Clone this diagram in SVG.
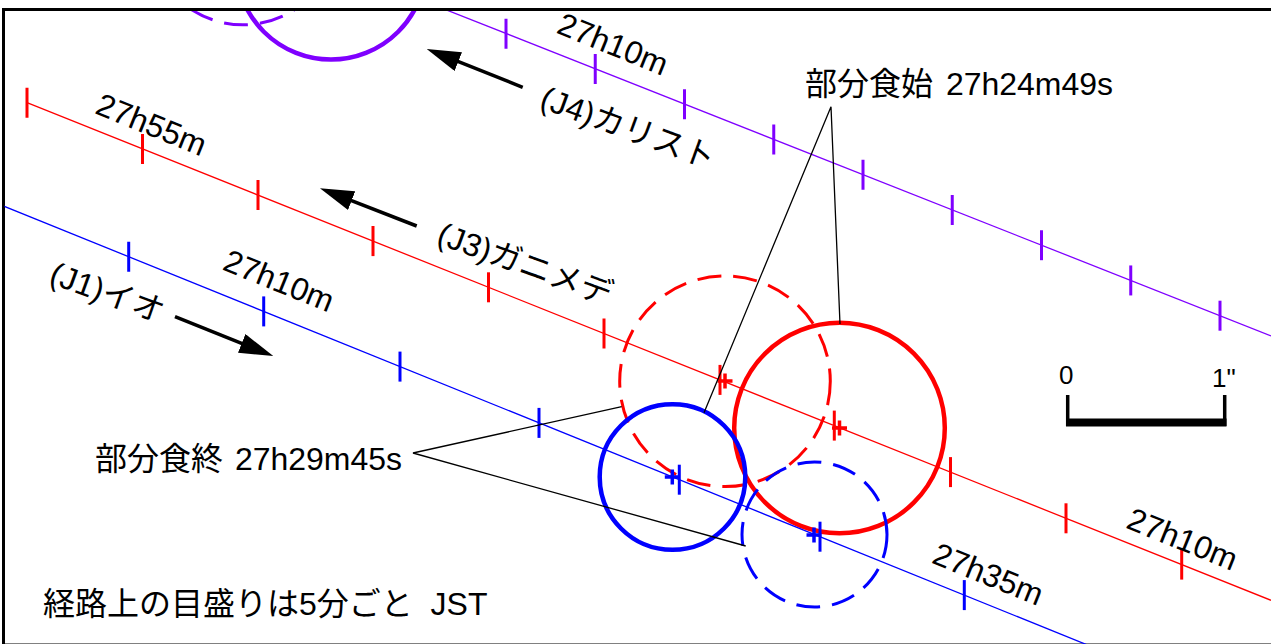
<svg xmlns="http://www.w3.org/2000/svg" width="1271" height="644" viewBox="0 0 1271 644">
<style>
.t{font-family:'Liberation Sans','Noto Sans CJK JP',sans-serif;fill:#000}
.pl{fill:none;stroke-width:1.3}
.tk{stroke-width:3}
.ev{stroke-width:3.5}
.sol{fill:none;stroke-width:4.5}
.dsh{fill:none;stroke-width:3;stroke-dasharray:24 12}
.ld{stroke:#000;stroke-width:1.3;fill:none}
.ar{stroke:#000;stroke-width:3.5;fill:none;marker-end:url(#ah)}
.pu{stroke:#7f00ff}
.rd{stroke:#ff0000}
.bl{stroke:#0000ff}
</style>
<defs>
<clipPath id="clip"><rect x="4.5" y="11" width="1280" height="640"/></clipPath>
<marker id="ah" viewBox="0 0 34 20" refX="14" refY="10" markerWidth="34" markerHeight="20" markerUnits="userSpaceOnUse" orient="auto">
<path d="M0,0 L34,10 L0,20 z" fill="#000"/>
</marker>
</defs>
<rect x="0" y="0" width="1271" height="644" fill="#fff"/>
<g id="frame"><rect x="3.5" y="9.5" width="1300" height="635.5" fill="none" stroke="#000" stroke-width="3"/></g>
<g clip-path="url(#clip)">
<g id="j4-callisto">
<line class="pl pu" x1="440" y1="7.4" x2="1271" y2="335.9"/>
<g class="tk pu">
<line x1="506" y1="18.7" x2="506" y2="48.7"/>
<line x1="595.25" y1="53.95" x2="595.25" y2="83.95"/>
<line x1="684.5" y1="89.2" x2="684.5" y2="119.2"/>
<line x1="773.75" y1="124.45" x2="773.75" y2="154.45"/>
<line x1="863" y1="159.7" x2="863" y2="189.7"/>
<line x1="952.25" y1="194.95" x2="952.25" y2="224.95"/>
<line x1="1041.5" y1="230.2" x2="1041.5" y2="260.2"/>
<line x1="1130.75" y1="265.45" x2="1130.75" y2="295.45"/>
<line x1="1220" y1="300.7" x2="1220" y2="330.7"/>
</g>
<circle class="dsh pu" cx="243" cy="-70.2" r="95"/>
<circle class="sol pu" cx="331" cy="-35.4" r="95"/>
</g>
<g id="j3-ganymede">
<line class="pl rd" x1="27" y1="102.7" x2="1271" y2="600.3"/>
<g class="tk rd">
<line x1="27" y1="87.7" x2="27" y2="117.7"/>
<line x1="142.5" y1="133.9" x2="142.5" y2="163.9"/>
<line x1="258" y1="180.1" x2="258" y2="210.1"/>
<line x1="373" y1="226.1" x2="373" y2="256.1"/>
<line x1="488.5" y1="272.3" x2="488.5" y2="302.3"/>
<line x1="604" y1="318.5" x2="604" y2="348.5"/>
<line x1="720" y1="364.9" x2="720" y2="394.9"/>
<line x1="834.3" y1="410.6" x2="834.3" y2="440.6"/>
<line x1="950.5" y1="457.1" x2="950.5" y2="487.1"/>
<line x1="1066" y1="503.3" x2="1066" y2="533.3"/>
<line x1="1181.7" y1="549.6" x2="1181.7" y2="579.6"/>
</g>
<g class="ev rd">
<path d="M725,373.5 V388.5 M717.5,381 H732.5"/>
<path d="M839.5,420.5 V435.5 M832,428 H847"/>
</g>
<circle class="dsh rd" cx="725" cy="381.3" r="105.3"/>
<circle class="sol rd" cx="839.5" cy="428" r="105.3"/>
</g>
<g id="j1-io">
<line class="pl bl" x1="0" y1="204.6" x2="1090" y2="646"/>
<g class="tk bl">
<line x1="128.7" y1="241.7" x2="128.7" y2="271.7"/>
<line x1="263.7" y1="296.4" x2="263.7" y2="326.4"/>
<line x1="400" y1="351.6" x2="400" y2="381.6"/>
<line x1="539" y1="407.9" x2="539" y2="437.9"/>
<line x1="679.3" y1="464.7" x2="679.3" y2="494.7"/>
<line x1="820" y1="521.7" x2="820" y2="551.7"/>
<line x1="964.3" y1="580.1" x2="964.3" y2="610.1"/>
</g>
<g class="ev bl">
<path d="M672.3,469.5 V484.5 M664.8,477 H679.8"/>
<path d="M814,527.5 V542.5 M806.5,535 H821.5"/>
</g>
<circle class="sol bl" cx="672.5" cy="477" r="72.8"/>
<circle class="dsh bl" cx="814.5" cy="534.5" r="72.5"/>
</g>
</g>
<g id="connectors">
<polyline class="ld" points="704,412.7 831,106.7 840,324"/>
<polyline class="ld" points="621.7,406.7 413,453 745.7,546"/>
<line class="ar" x1="522.7" y1="87.3" x2="445.3" y2="56.4"/>
<line class="ar" x1="416.7" y1="226" x2="338.6" y2="195.6"/>
<line class="ar" x1="175" y1="316.7" x2="254.7" y2="348.6"/>
</g>
<g id="time-labels" class="t" font-size="32" text-anchor="middle">
<text transform="translate(612.5,45) rotate(22)" y="10">27h10m</text>
<text transform="translate(151,125.5) rotate(22)" y="10">27h55m</text>
<text transform="translate(278.7,281.6) rotate(22)" y="10">27h10m</text>
<text transform="translate(1182,540) rotate(22)" y="10">27h10m</text>
<text transform="translate(987.8,575) rotate(22)" y="10">27h35m</text>
</g>
<g id="name-labels" class="t" font-size="32" text-anchor="middle">
<text transform="translate(628,128) rotate(20)" y="11">(J4)カリスト</text>
<text transform="translate(525,264) rotate(20)" y="11">(J3)ガニメデ</text>
<text transform="translate(107.5,292.6) rotate(20)" y="11">(J1)イオ</text>
</g>
<g id="event-start"><text class="t" y="95" font-size="32"><tspan x="805">部分食始</tspan><tspan x="946" textLength="167" lengthAdjust="spacingAndGlyphs">27h24m49s</tspan></text></g>
<g id="event-end"><text class="t" y="470" font-size="32"><tspan x="95">部分食終</tspan><tspan x="235" textLength="167" lengthAdjust="spacingAndGlyphs">27h29m45s</tspan></text></g>
<g id="scale">
<path d="M1067.7,395 V426 M1224.7,395 V426" stroke="#000" stroke-width="3.5" fill="none"/>
<line x1="1066" y1="422.5" x2="1226.5" y2="422.5" stroke="#000" stroke-width="8"/>
<text class="t" x="1059" y="383.5" font-size="26">0</text>
<text class="t" x="1212" y="387" font-size="26">1"</text>
</g>
<g id="note"><text class="t" x="43" y="615" font-size="32" xml:space="preserve">経路上の目盛りは5分ごと  JST</text></g>
</svg>
